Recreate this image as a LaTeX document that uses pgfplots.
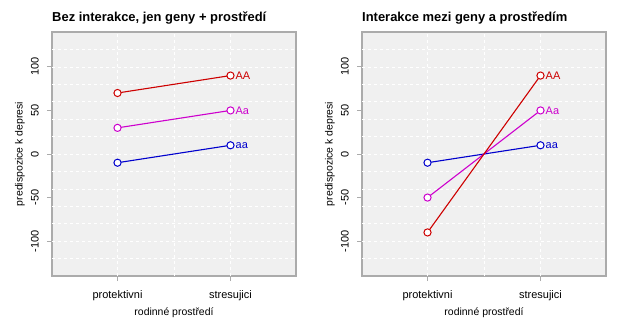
\documentclass[border=0pt]{standalone}
\usepackage{fontspec}
\setmainfont{Liberation Sans}
\usepackage{pgfplots}
\pgfplotsset{compat=1.18}
\definecolor{cAA}{HTML}{CD0000}
\definecolor{cAa}{HTML}{CD00CD}
\definecolor{caa}{HTML}{0000CD}
\definecolor{bg}{HTML}{F0F0F0}
\definecolor{framec}{HTML}{ABABAB}
\tikzset{vlab/.style={anchor=west, xshift=5bp, font=\fontsize{11}{13}\selectfont, inner sep=0pt}}
\pgfplotsset{
  panel/.style={
    scale only axis, width=244bp, height=244bp,
    anchor=south west,
    xmin=0.42, xmax=2.58, ymin=-140, ymax=140,
    xtick={1,2}, xticklabels={protektivni, stresujici},
    ytick={-100,-50,0,50,100}, yticklabels={-100,-50,0,50,100},
    xtick pos=bottom, ytick pos=left,
    tick align=outside, major tick length=5bp,
    tick style={framec, line width=0.8bp},
    axis line style={framec, line width=1.2bp},
    axis background/.style={fill=bg},
    extra x ticks={1,1.5,2}, extra x tick labels={},
    extra y ticks={-120,-100,...,120}, extra y tick labels={},
    extra x tick style={major tick length=0pt, grid=major, major grid style={white, dashed, line width=0.7bp}},
    extra y tick style={major tick length=0pt, grid=major, major grid style={white, dashed, line width=0.7bp}},
    tick label style={font=\fontsize{11}{13}\selectfont},
    yticklabel style={rotate=90, anchor=south, inner sep=0pt, yshift=8bp},
    xticklabel style={anchor=base, inner sep=0pt, yshift=-17bp},
    xlabel={rodinné prostředí},
    ylabel={predispozice k depresi},
    label style={font=\fontsize{10.5}{12}\selectfont},
    xlabel style={at={(axis description cs:0.5,0)}, anchor=base, inner sep=0pt, yshift=-39.5bp},
    ylabel style={at={(axis description cs:0,0.5)}, anchor=center, inner sep=0pt, yshift=32bp},
    title style={at={(axis description cs:0,1)}, anchor=base west, inner sep=0pt, yshift=4.5bp, font=\bfseries\fontsize{13}{15}\selectfont},
    every axis plot/.append style={line width=1.1bp, mark=*, mark size=3.6bp, mark options={fill=white, line width=1bp, solid}},
  },
}
\begin{document}
\begin{tikzpicture}[x=1bp,y=1bp]
\useasboundingbox (0,0) rectangle (638,326);
\begin{axis}[panel, at={(52bp,50bp)}, title={Bez interakce, jen geny + prostředí}]
\addplot[cAA] coordinates {(1,70) (2,90)};
\addplot[cAa] coordinates {(1,30) (2,50)};
\addplot[caa] coordinates {(1,-10) (2,10)};
\node[vlab, cAA] at (axis cs:2,90) {AA};
\node[vlab, cAa] at (axis cs:2,50) {Aa};
\node[vlab, caa] at (axis cs:2,10) {aa};
\end{axis}
\begin{axis}[panel, at={(362bp,50bp)}, title={Interakce mezi geny a prostředím}]
\addplot[caa] coordinates {(1,-10) (2,10)};
\addplot[cAa] coordinates {(1,-50) (2,50)};
\addplot[cAA] coordinates {(1,-90) (2,90)};
\node[vlab, cAA] at (axis cs:2,90) {AA};
\node[vlab, cAa] at (axis cs:2,50) {Aa};
\node[vlab, caa] at (axis cs:2,10) {aa};
\end{axis}
\end{tikzpicture}
\end{document}
